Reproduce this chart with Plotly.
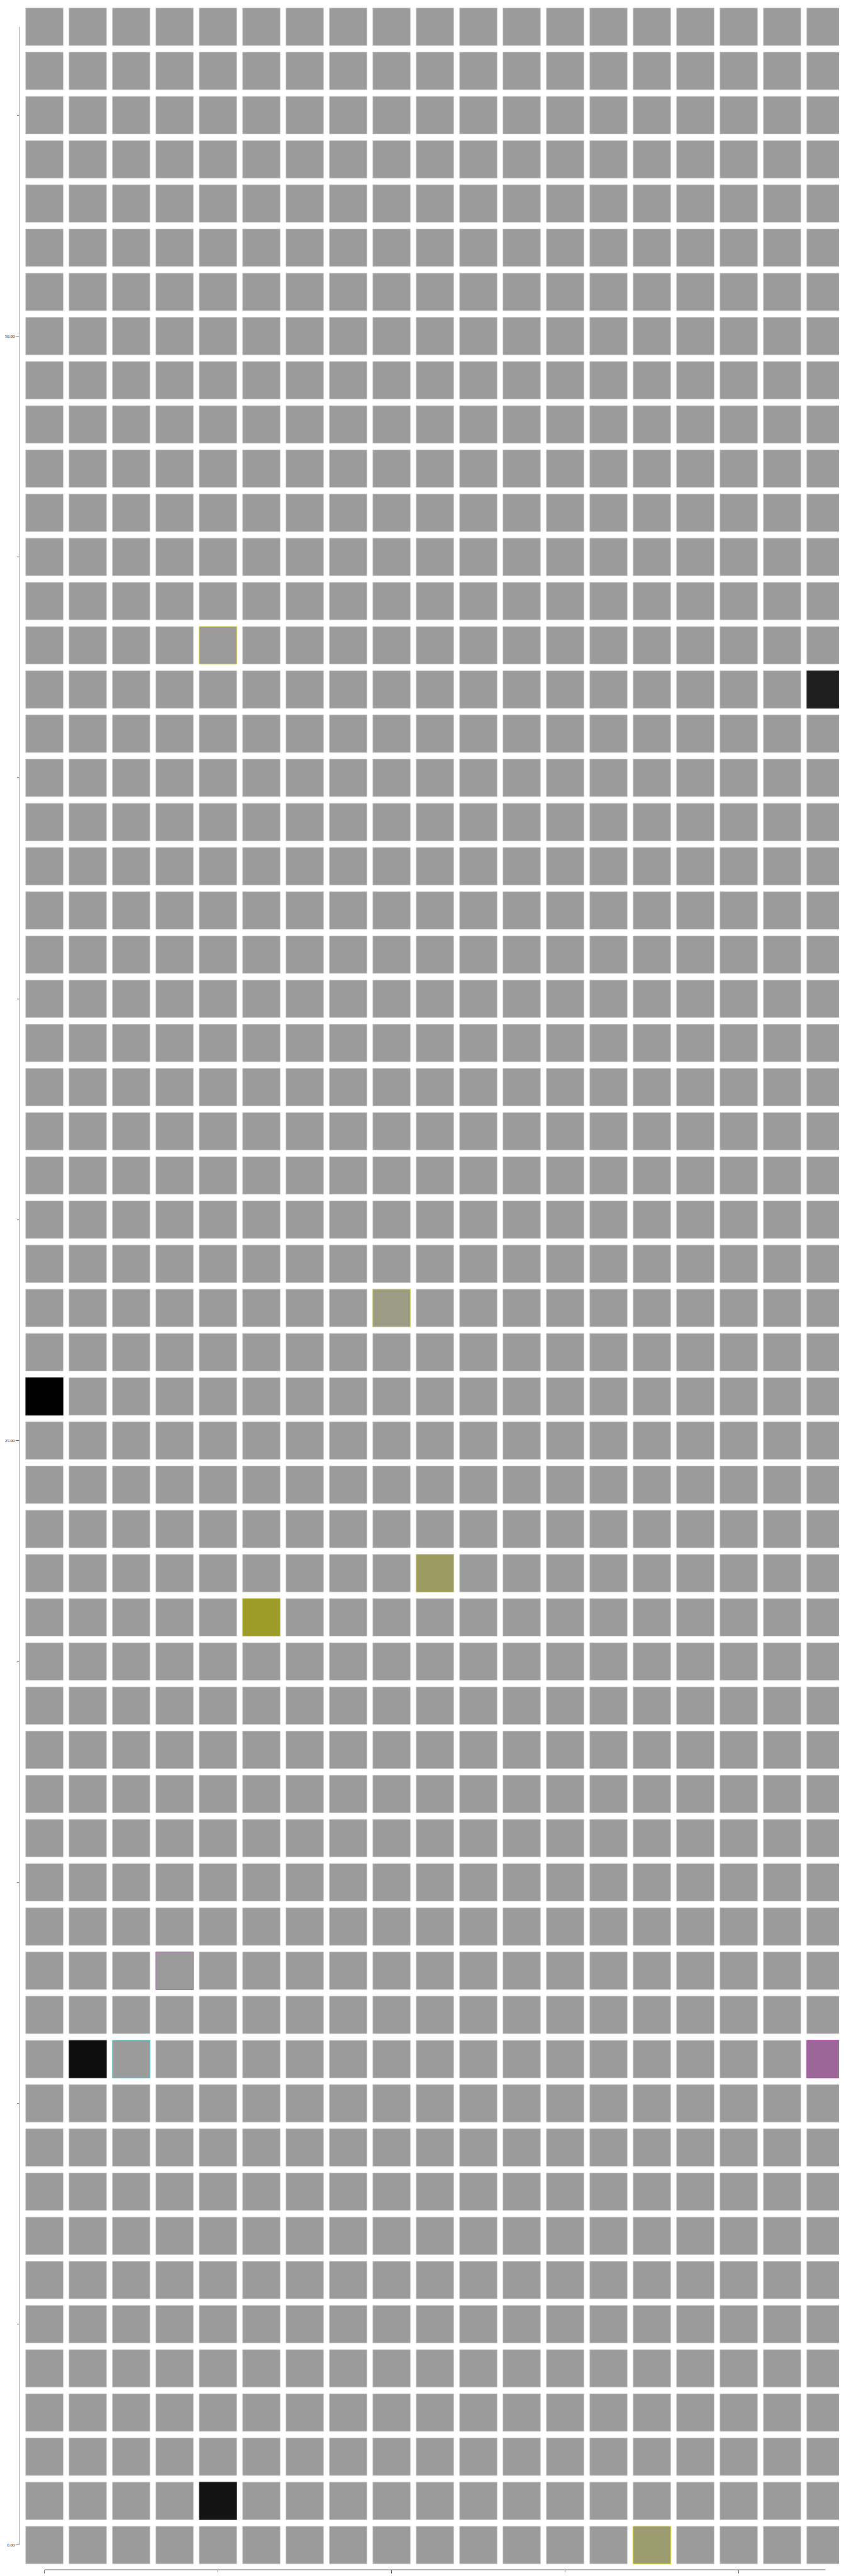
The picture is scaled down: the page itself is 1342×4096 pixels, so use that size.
import plotly.graph_objects as go

# grid categories
columns = list(range(19))          # x values 0..18
rows = list(range(58))             # y values 0..57

# highlighted cells (column, row, fill, outline)
hl_x = [4, 18, 8, 0, 9, 5, 3, 1, 2, 18, 4, 14]
hl_y = [43, 42, 28, 26, 22, 21, 13, 11, 11, 11, 1, 0]
hl_fill = ["#9b9b9b", "#1e1e1e", "#9c9c84", "#000000", "#9c9c60", "#9e9c28",
           "#9b9b9b", "#0e0e0e", "#9b9b9b", "#9c6699", "#131313", "#9c9c70"]
hl_line = ["#e4e420", "#5a5a5a", "#dede50", "#333333", "#e0e000", "#e6e000",
           "#ee22ee", "#444444", "#33dddd", "#c528c5", "#333333", "#e2e000"]

x_tick_major = 8
x_tick_minor = 4
y_tick_major = 25
y_tick_minor = 5

base_x = [c for r in rows for c in columns]
base_y = [r for r in rows for c in columns]

fig = go.Figure()
fig.add_trace(go.Scatter(
    x=base_x, y=base_y, mode="markers", hoverinfo="skip", showlegend=False,
    marker=dict(symbol="square", size=59.7, color="#9b9b9b",
                line=dict(color="#cfcfcf", width=0.6)),
))
fig.add_trace(go.Scatter(
    x=hl_x, y=hl_y, mode="markers", hoverinfo="skip", showlegend=False,
    marker=dict(symbol="square", size=59.7, color=hl_fill,
                line=dict(color=hl_line, width=0.6)),
))

tickfont = dict(family="Liberation Serif, DejaVu Serif, serif", size=7, color="#222222")

fig.update_layout(
    width=1342, height=4096,
    margin=dict(l=23, r=0, t=0, b=18),
    paper_bgcolor="white", plot_bgcolor="white",
    xaxis=dict(range=[-0.574, 18.542], tick0=0, dtick=x_tick_major,
               showgrid=False, zeroline=False, showline=False,
               ticks="outside", ticklen=5, tickwidth=1, tickcolor="#555555",
               tickfont=tickfont,
               minor=dict(tick0=0, dtick=x_tick_minor, ticks="outside", ticklen=3,
                          tickwidth=1, tickcolor="#777777", showgrid=False)),
    yaxis=dict(range=[-0.5566, 57.493], tick0=0, dtick=y_tick_major,
               tickformat=".2f",
               showgrid=False, zeroline=False, showline=False,
               ticks="outside", ticklen=5, tickwidth=1, tickcolor="#555555",
               tickfont=tickfont,
               minor=dict(tick0=0, dtick=y_tick_minor, ticks="outside", ticklen=3,
                          tickwidth=1, tickcolor="#777777", showgrid=False)),
    shapes=[
        dict(type="line", xref="x", yref="paper", x0=columns[0], x1=columns[-1],
             y0=0, y1=0, line=dict(color="#666666", width=1)),
        dict(type="line", xref="paper", yref="y", x0=0, x1=0,
             y0=rows[0], y1=rows[-1], line=dict(color="#9a9a9a", width=1.2)),
    ],
)

fig.write_html("out.html")
